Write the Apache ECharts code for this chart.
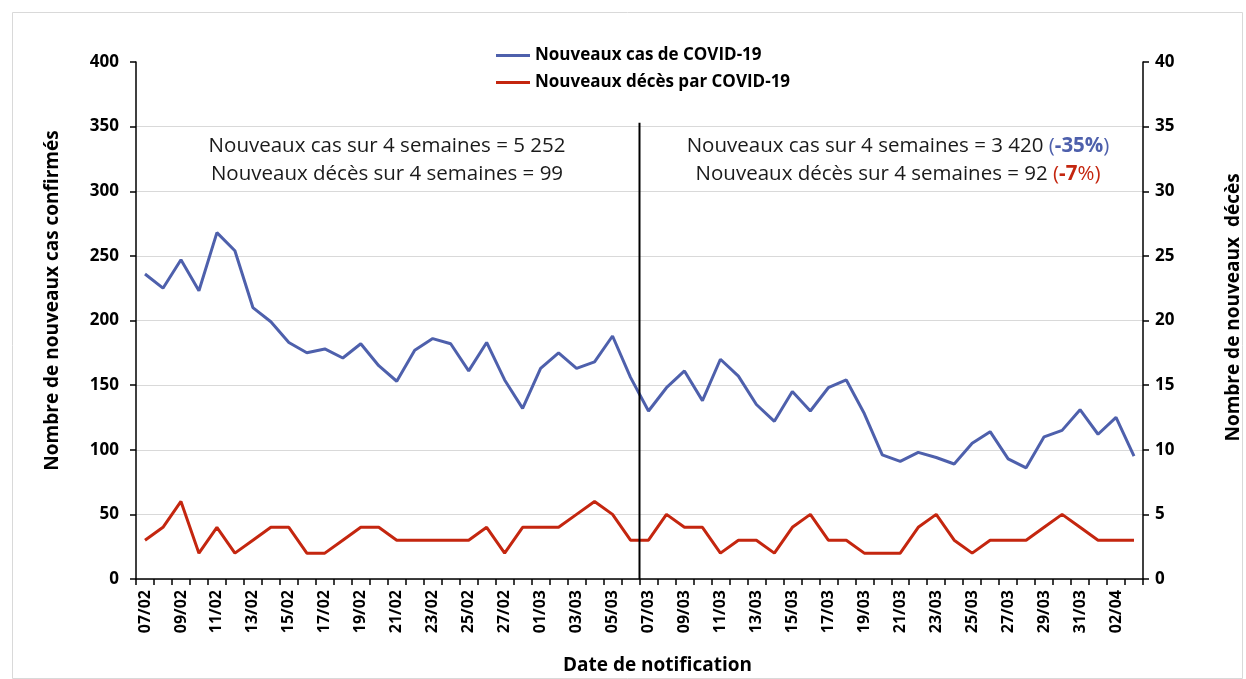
<!DOCTYPE html>
<html>
<head>
<meta charset="utf-8">
<script src="https://cdn.jsdelivr.net/npm/echarts@6/dist/echarts.min.js"></script>
<style>
html,body{margin:0;padding:0;background:#fff;}
#c{width:1246px;height:679px;}
</style>
</head>
<body>
<div id="c"></div>
<script>
var dates = ['07/02','08/02','09/02','10/02','11/02','12/02','13/02','14/02','15/02','16/02','17/02','18/02','19/02','20/02','21/02','22/02','23/02','24/02','25/02','26/02','27/02','28/02','01/03','02/03','03/03','04/03','05/03','06/03','07/03','08/03','09/03','10/03','11/03','12/03','13/03','14/03','15/03','16/03','17/03','18/03','19/03','20/03','21/03','22/03','23/03','24/03','25/03','26/03','27/03','28/03','29/03','30/03','31/03','01/04','02/04','03/04'];
var cases = [236,225,247,223,268,254,210,199,183,175,178,171,182,165,153,177,186,182,161,183,154,132,163,175,163,168,188,156,
             130,148,161,138,170,157,135,122,145,130,148,154,128,96,91,98,94,89,105,114,93,86,110,115,131,112,125,95];
var deaths = [3,4,6,2,4,2,3,4,4,2,2,3,4,4,3,3,3,3,3,4,2,4,4,4,5,6,5,3,
              3,5,4,4,2,3,3,2,4,5,3,3,2,2,2,4,5,3,2,3,3,3,4,5,4,3,3,3];
var dividerX = [28, 28];
var dividerY = [0, 353];
var caseName = 'Nouveaux cas de COVID-19';
var deathName = 'Nouveaux décès par COVID-19';
var leftTitle = 'Nombre de nouveaux cas confirmés';
var rightTitle = 'Nombre de nouveaux  décès';
var xTitle = 'Date de notification';

var BLUE = '#4E60AC', RED = '#C4260F';
var FONT = 'Open Sans';
var chart = echarts.init(document.getElementById('c'), null, {renderer:'canvas'});
var opt = {
  animation: false,
  backgroundColor: '#fff',
  textStyle: {fontFamily: FONT},
  grid: {left: 136, right: 103, top: 62, bottom: 100, containLabel: false, outerBoundsMode: 'none'},
  legend: {
    orient: 'vertical', top: 42, left: 491,
    itemWidth: 34, itemHeight: 3, itemGap: 10,
    textStyle: {fontFamily: FONT, fontWeight: 'bold', fontSize: 17, color: '#000'},
    data: [{name: caseName, icon: 'rect'}, {name: deathName, icon: 'rect'}]
  },
  xAxis: [{
    type: 'category', data: dates, boundaryGap: true,
    axisLine: {lineStyle: {color: '#000', width: 1.5}},
    axisTick: {show: true, interval: 0, length: 6, lineStyle: {color: '#000', width: 1.5}},
    axisLabel: {interval: 1, rotate: 90, fontFamily: FONT, fontWeight: 'bold', fontSize: 16, color: '#000', margin: 11},
    name: xTitle, nameLocation: 'middle', nameGap: 77,
    nameTextStyle: {fontFamily: FONT, fontWeight: 'bold', fontSize: 19, color: '#000', padding: [0, 0, 0, 36]}
  }, {
    type: 'value', min: 0, max: dates.length, show: false
  }],
  yAxis: [{
    type: 'value', min: 0, max: 400, interval: 50,
    axisLine: {show: true, lineStyle: {color: '#000', width: 1.5}},
    axisTick: {show: true, length: 6, lineStyle: {color: '#000', width: 1.5}},
    axisLabel: {fontFamily: FONT, fontWeight: 'bold', fontSize: 17, color: '#000', margin: 17},
    splitLine: {show: true, showMaxLine: false, lineStyle: {color: '#d9d9d9', width: 1}},
    name: leftTitle, nameLocation: 'middle', nameRotate: 90, nameGap: 74,
    nameTextStyle: {fontFamily: FONT, fontWeight: 'bold', fontSize: 19, color: '#000', padding: [0, 0, 0, 40]}
  }, {
    type: 'value', min: 0, max: 40, interval: 5, position: 'right',
    axisLine: {show: true, lineStyle: {color: '#000', width: 1.5}},
    axisTick: {show: true, length: 6, lineStyle: {color: '#000', width: 1.5}},
    axisLabel: {fontFamily: FONT, fontWeight: 'bold', fontSize: 17, color: '#000', margin: 12},
    splitLine: {show: false},
    name: rightTitle, nameLocation: 'middle', nameRotate: 90, nameGap: 81,
    nameTextStyle: {fontFamily: FONT, fontWeight: 'bold', fontSize: 19, color: '#000', padding: [0, 0, 0, 26]}
  }],
  series: [{
    name: caseName, type: 'line', data: cases, xAxisIndex: 0, yAxisIndex: 0,
    symbol: 'none', lineStyle: {color: BLUE, width: 3}, itemStyle: {color: BLUE}, z: 3
  }, {
    name: deathName, type: 'line', data: deaths, xAxisIndex: 0, yAxisIndex: 1,
    symbol: 'none', lineStyle: {color: RED, width: 3}, itemStyle: {color: RED}, z: 3
  }, {
    name: 'divider', type: 'line', xAxisIndex: 1, yAxisIndex: 0,
    data: dividerX.map(function(x, i){ return [x, dividerY[i]]; }),
    symbol: 'none', lineStyle: {color: '#000', width: 2}, z: 4, silent: true
  }],
  graphic: [{
    type: 'rect', left: 10, top: 10, z: -10, silent: true,
    shape: {width: 1230, height: 666}, style: {fill: 'none', stroke: '#d9d9d9', lineWidth: 1}
  }, {
    type: 'text', x: 387, y: 146, silent: true,
    style: {text: 'Nouveaux cas sur 4 semaines = 5 252', fontFamily: FONT, fontSize: 20.5, fill: '#1a1a1a', align: 'center', verticalAlign: 'middle'}
  }, {
    type: 'text', x: 387, y: 174, silent: true,
    style: {text: 'Nouveaux décès sur 4 semaines = 99', fontFamily: FONT, fontSize: 20.5, fill: '#1a1a1a', align: 'center', verticalAlign: 'middle'}
  }, {
    type: 'text', x: 898, y: 146, silent: true,
    style: {text: 'Nouveaux cas sur 4 semaines = 3 420 {bp|(}{b|-35%}{bp|)}', fontFamily: FONT, fontSize: 20.5, fill: '#1a1a1a', align: 'center', verticalAlign: 'middle',
      rich: {bp: {fill: BLUE, fontSize: 20.5, fontFamily: FONT}, b: {fill: BLUE, fontSize: 20.5, fontWeight: 'bold', fontFamily: FONT}}}
  }, {
    type: 'text', x: 898, y: 174, silent: true,
    style: {text: 'Nouveaux décès sur 4 semaines = 92 {rp|(}{r|-7}{rp|%)}', fontFamily: FONT, fontSize: 20.5, fill: '#1a1a1a', align: 'center', verticalAlign: 'middle',
      rich: {rp: {fill: RED, fontSize: 20.5, fontFamily: FONT}, r: {fill: RED, fontSize: 20.5, fontWeight: 'bold', fontFamily: FONT}}}
  }]
};
chart.setOption(opt);
</script>
</body>
</html>
